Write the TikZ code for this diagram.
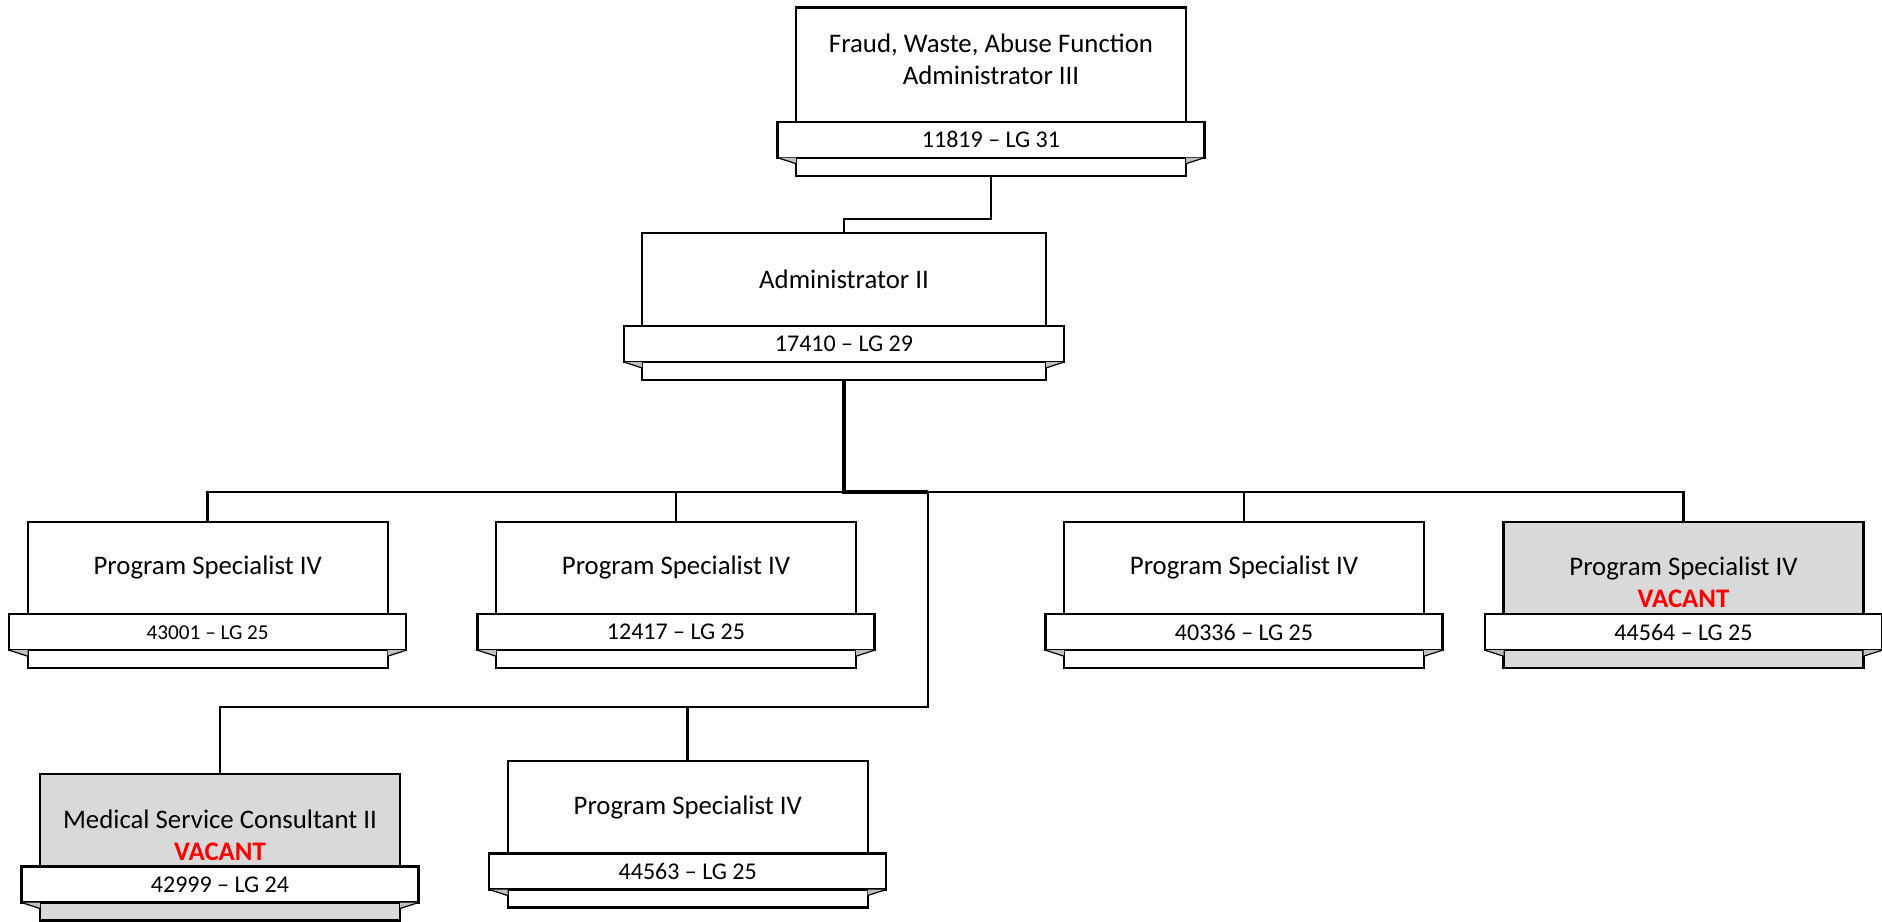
\documentclass[tikz,border=0pt]{standalone}
\usepackage{fontspec}
\setmainfont{Carlito}
\usetikzlibrary{positioning,calc}

\definecolor{boxgray}{HTML}{D9D9D9}
\definecolor{foldgray}{HTML}{BFBFBF}
\definecolor{vacantred}{HTML}{FF0000}

\tikzset{
  post/.style={draw, line width=1.2pt, fill=white, minimum width=#1, minimum height=73.25pt,
    inner sep=0pt, outer sep=0pt, anchor=north},
  band/.style={draw, line width=1.2pt, fill=white, minimum width=#1, minimum height=18pt,
    inner sep=0pt, outer sep=0pt, font=\fontsize{12}{14}\selectfont},
  title/.style={align=center, inner sep=0pt, font=\fontsize{13.4}{16}\selectfont},
  open/.style={fill=boxgray},
  fold/.style={fill=foldgray},
  crease/.style={draw, line width=0.6pt},
  link/.style={draw, line width=1.4pt},
  trunk/.style={draw, line width=2pt},
}
\newcommand{\vacant}{\textcolor{vacantred}{\bfseries VACANT}}

\begin{document}
\begin{tikzpicture}[x=0.5pt, y=-0.5pt]
\useasboundingbox (0,0) rectangle (1882,921);

% bus levels
\coordinate (bus0) at (0,219);
\coordinate (bus1) at (0,492);
\coordinate (bus2) at (0,707);
\coordinate (drop) at (928,492);

% top
\node[post=195pt, minimum height=84.2pt] (fwa) at (991,7.3) {};
\node[band=213.5pt, above=9pt of fwa.south] (fwa-id) {11819 – LG 31};
\node[title, yshift=2.75pt] (fwa-t) at ($(fwa.north)!.5!(fwa-id.north)$)
  {Fraud, Waste, Abuse Function\\Administrator III};

\node[post=202pt, minimum height=73.5pt] (adm) at (844,233) {};
\node[band=220pt, above=9pt of adm.south] (adm-id) {17410 – LG 29};
\node[title] (adm-t) at ($(adm.north)!.5!(adm-id.north)$) {Administrator II};

% connectors
\draw[link] (fwa.south) -- (fwa.south |- bus0) -| (adm.north);
\draw[trunk] (adm.south) |- (drop);

% first row
\node[post=180pt] (p1) at (207.7,521.7) {};
\node[band=198.5pt, font=\fontsize{10.6}{13}\selectfont, above=9pt of p1.south] (p1-id) {43001 – LG 25};
\node[title] (p1-t) at ($(p1.north)!.5!(p1-id.north)$) {Program Specialist IV};

\node[post=180pt] (p2) at (676,521.7) {};
\node[band=198.5pt, above=9pt of p2.south] (p2-id) {12417 – LG 25};
\node[title] (p2-t) at ($(p2.north)!.5!(p2-id.north)$) {Program Specialist IV};

\node[post=180pt] (p3) at (1244,521.7) {};
\node[band=198.5pt, above=9pt of p3.south] (p3-id) {40336 – LG 25};
\node[title] (p3-t) at ($(p3.north)!.5!(p3-id.north)$) {Program Specialist IV};

\node[post=180pt, open] (p4) at (1683.5,521.7) {};
\node[band=198.5pt, above=9pt of p4.south] (p4-id) {44564 – LG 25};
\node[title, yshift=-7.25pt] (p4-t) at ($(p4.north)!.5!(p4-id.north)$) {Program Specialist IV\\\vacant};

% second row
\node[post=180pt, open] (msc) at (220,774) {};
\node[band=198.5pt, above=9pt of msc.south] (msc-id) {42999 – LG 24};
\node[title, yshift=-7.5pt] (msc-t) at ($(msc.north)!.5!(msc-id.north)$) {Medical Service Consultant II\\\vacant};

\node[post=180pt] (p6) at (687.7,761) {};
\node[band=198.5pt, above=9pt of p6.south] (p6-id) {44563 – LG 25};
\node[title] (p6-t) at ($(p6.north)!.5!(p6-id.north)$) {Program Specialist IV};

\draw[link] (p1.north) -- (p1.north |- bus1) -- (p4.north |- bus1) -- (p4.north);
\foreach \n in {p2,p3} \draw[link] (\n.north) -- (\n.north |- bus1);
\draw[link] (drop) -- (drop |- bus2) -- (msc.north |- bus2) -- (msc.north);
\draw[link] (p6.north) -- (p6.north |- bus2);

% folds under the bands
\foreach \n in {fwa,adm,p1,p2,p3,p4,msc,p6} {
  \fill[fold] (\n-id.south west) -- (\n-id.south west -| \n.west) -- ++(0,6) -- cycle;
  \fill[fold] (\n-id.south east) -- (\n-id.south east -| \n.east) -- ++(0,6) -- cycle;
  \draw[crease] (\n-id.south west) -- ($(\n-id.south west -| \n.west)+(0,6)$);
  \draw[crease] (\n-id.south east) -- ($(\n-id.south east -| \n.east)+(0,6)$);
}
\end{tikzpicture}
\end{document}
